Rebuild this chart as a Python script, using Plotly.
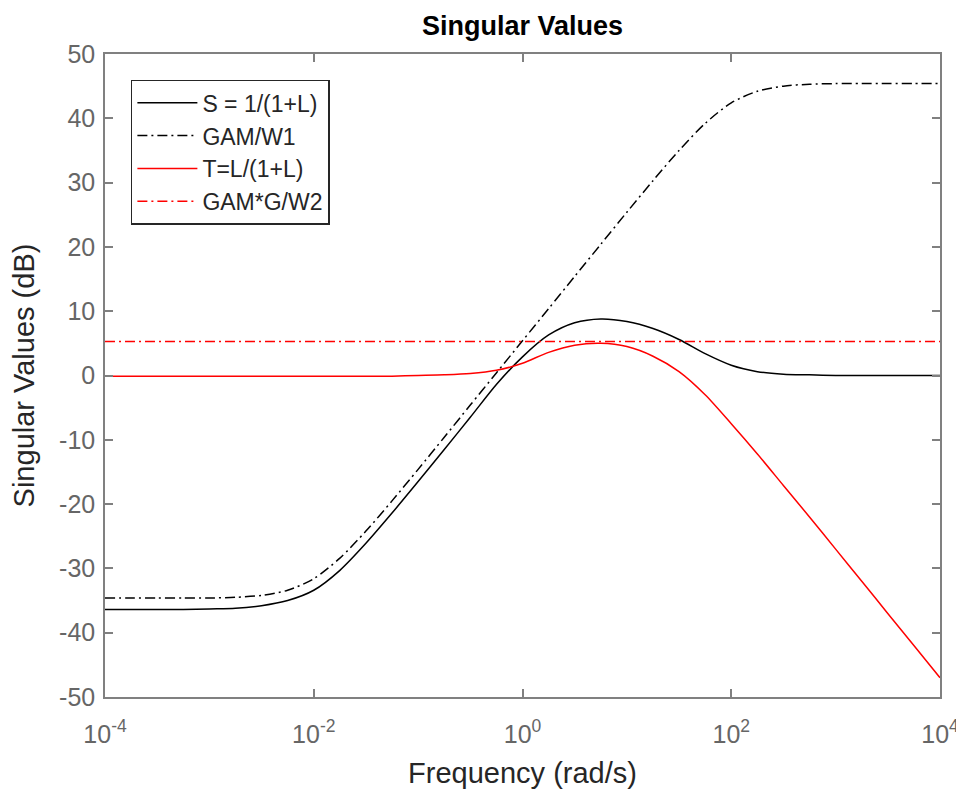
import plotly.graph_objects as go

# frequency grid (rad/s), quarter-decade steps
freq = [1e-4, 1.78e-4, 3.16e-4, 5.62e-4, 1e-3, 1.78e-3, 3.16e-3, 5.62e-3,
        1e-2, 1.78e-2, 3.16e-2, 5.62e-2, 0.1, 0.178, 0.316, 0.562,
        1, 1.78, 3.16, 5.62, 10, 17.8, 31.6, 56.2,
        100, 178, 316, 562, 1e3, 1.78e3, 3.16e3, 5.62e3, 1e4]

# singular values (dB)
s_db = [-36.4, -36.4, -36.4, -36.4, -36.3, -36.2, -35.8, -35.0,
        -33.4, -30.3, -26.1, -21.4, -16.5, -11.5, -6.5, -1.4,
        2.9, 6.3, 8.2, 8.8, 8.4, 7.3, 5.6, 3.4,
        1.6, 0.6, 0.2, 0.1, 0.0, 0.0, 0.0, 0.0, 0.0]
gam_w1_db = [-34.6, -34.6, -34.6, -34.6, -34.6, -34.5, -34.2, -33.4,
             -31.6, -28.4, -24.2, -19.5, -14.6, -9.6, -4.6, 0.4,
             5.4, 10.4, 15.4, 20.4, 25.4, 30.3, 35.0, 39.2,
             42.4, 44.2, 45.0, 45.3, 45.4, 45.4, 45.4, 45.4, 45.4]
t_db = [-0.1, -0.1, -0.1, -0.1, -0.1, -0.1, -0.1, -0.1,
        -0.1, -0.1, -0.1, -0.1, 0.0, 0.1, 0.3, 0.8,
        1.9, 3.6, 4.7, 5.0, 4.5, 3.0, 0.6, -3.0,
        -7.5, -12.2, -17.1, -22.0, -27.0, -32.0, -37.0, -42.0, -47.0]
gam_g_w2_freq = [1e-4, 1e4]
gam_g_w2_db = [5.3, 5.3]

x_ticks = [1e-4, 1e-2, 1, 1e2, 1e4]
x_ticktext = ["10<sup>-4</sup>", "10<sup>-2</sup>", "10<sup>0</sup>",
              "10<sup>2</sup>", "10<sup>4</sup>"]
y_ticks = list(range(-50, 51, 10))
y_ticktext = [str(v) for v in y_ticks]

FONT = "Liberation Sans, Arial, sans-serif"
AXIS_GRAY = "#808080"
DASHDOT = "10px,4px,2px,4px"

fig = go.Figure()
fig.add_trace(go.Scatter(x=freq, y=s_db, mode="lines", name="S = 1/(1+L)",
                         line=dict(color="#000000", width=1.5, shape="spline", smoothing=0.8)))
fig.add_trace(go.Scatter(x=freq, y=gam_w1_db, mode="lines", name="GAM/W1",
                         line=dict(color="#000000", width=1.5, dash=DASHDOT,
                                   shape="spline", smoothing=0.8)))
fig.add_trace(go.Scatter(x=freq, y=t_db, mode="lines", name="T=L/(1+L)",
                         line=dict(color="#ff0000", width=1.5, shape="spline", smoothing=0.8)))
fig.add_trace(go.Scatter(x=gam_g_w2_freq, y=gam_g_w2_db, mode="lines", name="GAM*G/W2",
                         line=dict(color="#ff0000", width=1.5, dash=DASHDOT)))

axis_common = dict(
    showgrid=False, zeroline=False,
    showline=True, linecolor=AXIS_GRAY, linewidth=1.5, mirror="ticks",
    ticks="inside", ticklen=8, tickcolor=AXIS_GRAY, tickwidth=1.5,
    tickfont=dict(family=FONT, size=25, color="#666666"),
)

# page body has an 8px margin, so the margins are shifted to compensate
fig.update_layout(
    width=964, height=791,
    paper_bgcolor="white", plot_bgcolor="white",
    margin=dict(l=89, r=32, t=46, b=102),
    font=dict(family=FONT),
    title=dict(text="<b>Singular Values</b>", x=0.5, xref="paper",
               y=1 - 18 / 791, yref="container", yanchor="middle",
               font=dict(family=FONT, size=27, color="#000000")),
    xaxis=dict(type="log", range=[-4, 4], tickvals=x_ticks, ticktext=x_ticktext,
               ticklabelstandoff=14,
               title=dict(text="Frequency (rad/s)", standoff=16,
                          font=dict(family=FONT, size=29, color="#262626")),
               **axis_common),
    yaxis=dict(range=[-50, 50], tickvals=y_ticks, ticktext=y_ticktext,
               ticklabelstandoff=3,
               title=dict(text="Singular Values (dB)", standoff=19,
                          font=dict(family=FONT, size=29, color="#262626")),
               **axis_common),
    legend=dict(x=0.031, y=0.96, xanchor="left", yanchor="top",
                bgcolor="white", bordercolor="#262626", borderwidth=1.5,
                itemwidth=60,
                font=dict(family=FONT, size=23, color="#262626")),
)

fig.write_html("out.html")
